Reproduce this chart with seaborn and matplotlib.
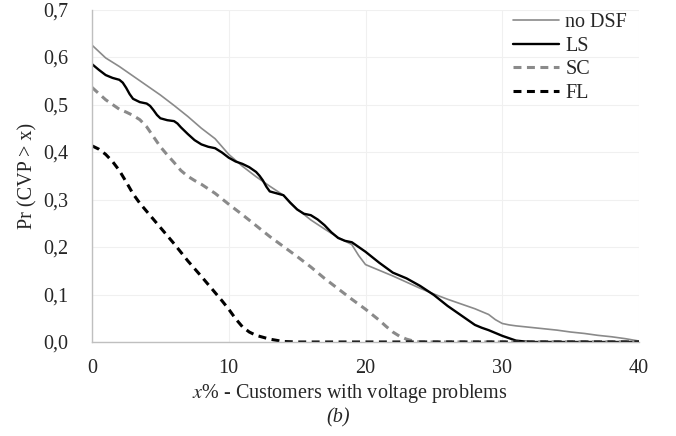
import numpy as np
import pandas as pd
import matplotlib
matplotlib.use("Agg")
import matplotlib.pyplot as plt
import seaborn as sns
from matplotlib.lines import Line2D

# ---- data ----
series_names = ["no DSF", "LS", "SC", "FL"]

x_nodsf = [0, 1, 2, 3, 4, 5, 6, 7, 8, 9, 10, 11, 12, 13, 14, 15, 16, 17, 18, 19,
           19.5, 20, 21, 22, 23, 24, 25, 26, 27, 28, 29, 29.5, 30, 30.5, 31, 32,
           33, 34, 35, 36, 37, 38, 39, 40]
y_nodsf = [0.625, 0.598, 0.580, 0.560, 0.540, 0.520, 0.498, 0.475, 0.450, 0.428,
           0.395, 0.370, 0.348, 0.328, 0.309, 0.280, 0.257, 0.238, 0.220, 0.205,
           0.182, 0.163, 0.151, 0.139, 0.126, 0.113, 0.101, 0.090, 0.080, 0.070,
           0.058, 0.047, 0.039, 0.036, 0.034, 0.031, 0.028, 0.025, 0.021, 0.018,
           0.014, 0.011, 0.007, 0.002]

x_ls = [0, 0.5, 1, 1.5, 2, 2.25, 2.5, 2.75, 3, 3.5, 4, 4.25, 4.5, 4.75, 5, 5.5, 6,
        6.25, 6.5, 7, 7.5, 8, 8.5, 9, 9.5, 10, 10.5, 11, 11.5, 12, 12.25, 12.5,
        12.75, 13, 13.5, 14, 14.5, 15, 15.5, 16, 16.5, 17, 17.5, 18, 18.5, 19,
        19.5, 20, 21, 22, 23, 24, 25, 26, 27, 28, 28.5, 29, 30, 31, 32, 33, 34,
        35, 36, 37, 38, 39, 40]
y_ls = [0.585, 0.573, 0.562, 0.556, 0.552, 0.546, 0.535, 0.522, 0.512, 0.505,
        0.502, 0.497, 0.488, 0.478, 0.471, 0.467, 0.465, 0.460, 0.452, 0.438,
        0.425, 0.416, 0.411, 0.408, 0.399, 0.388, 0.380, 0.375, 0.368, 0.358,
        0.350, 0.340, 0.327, 0.317, 0.313, 0.309, 0.293, 0.279, 0.270, 0.267,
        0.258, 0.246, 0.231, 0.219, 0.213, 0.210, 0.200, 0.190, 0.167, 0.146,
        0.134, 0.118, 0.099, 0.076, 0.056, 0.036, 0.030, 0.025, 0.013, 0.003,
        0.0, 0.0, 0.0, 0.0, 0.0, 0.0, 0.0, 0.0, 0.0]

x_sc = [0, 1, 2, 2.5, 3, 3.5, 4, 4.5, 5, 5.5, 6, 6.5, 7, 7.5, 8, 9, 10, 11, 12,
        13, 14, 15, 16, 17, 18, 19, 20, 21, 21.5, 22, 22.5, 23, 23.5, 24, 25, 30,
        35, 40]
y_sc = [0.536, 0.510, 0.490, 0.484, 0.477, 0.468, 0.453, 0.432, 0.411, 0.394,
        0.378, 0.361, 0.349, 0.340, 0.332, 0.313, 0.290, 0.268, 0.245, 0.222,
        0.201, 0.180, 0.158, 0.134, 0.112, 0.090, 0.069, 0.046, 0.033, 0.021,
        0.012, 0.006, 0.002, 0.0, 0.0, 0.0, 0.0, 0.0]

x_fl = [0, 0.5, 1, 1.5, 2, 2.5, 3, 3.5, 4, 5, 6, 7, 8, 9, 9.5, 10, 10.5, 11,
        11.5, 12, 13, 14, 15, 20, 25, 30, 35, 40]
y_fl = [0.413, 0.406, 0.395, 0.380, 0.361, 0.337, 0.312, 0.292, 0.275, 0.241,
        0.207, 0.171, 0.138, 0.104, 0.087, 0.069, 0.049, 0.032, 0.021, 0.014,
        0.006, 0.001, 0.0, 0.0, 0.0, 0.0, 0.0, 0.0]

x_ticks = [0, 10, 20, 30, 40]
y_ticks = [0.0, 0.1, 0.2, 0.3, 0.4, 0.5, 0.6, 0.7]
y_tick_labels = ["0,0", "0,1", "0,2", "0,3", "0,4", "0,5", "0,6", "0,7"]

df = pd.concat([
    pd.DataFrame({"x": x_nodsf, "y": y_nodsf, "s": "no DSF"}),
    pd.DataFrame({"x": x_ls, "y": y_ls, "s": "LS"}),
    pd.DataFrame({"x": x_sc, "y": y_sc, "s": "SC"}),
    pd.DataFrame({"x": x_fl, "y": y_fl, "s": "FL"}),
], ignore_index=True)

# ---- style ----
sns.set_theme(style="white")
plt.rcParams["font.family"] = ["Liberation Serif", "DejaVu Serif"]
plt.rcParams["mathtext.fontset"] = "stix"
FS = 14.5

W, H = 676, 436
fig = plt.figure(figsize=(W / 100, H / 100), dpi=100)
ax = fig.add_axes([92 / W, 1 - 342 / H, (639 - 92) / W, (342 - 9.5) / H])

palette = {"no DSF": "#8a8a8a", "LS": "#000000", "SC": "#8a8a8a", "FL": "#000000"}
dashes = {"no DSF": "", "LS": "", "SC": (2.6, 1.8), "FL": (2.6, 1.8)}
sizes = {"no DSF": 1.2, "LS": 1.7, "SC": 2.2, "FL": 2.2}

sns.lineplot(data=df, x="x", y="y", hue="s", style="s", size="s",
             hue_order=series_names, style_order=series_names, size_order=series_names,
             palette=palette, dashes=dashes, sizes=sizes, ax=ax, legend=False,
             estimator=None, sort=False)
for line in ax.get_lines():
    line.set_solid_joinstyle("round")
    line.set_dash_joinstyle("round")

ax.set_xlim(0, 40)
ax.set_ylim(0, 0.7)
ax.set_xticks(x_ticks)
ax.set_xticklabels([str(t) for t in x_ticks], fontsize=FS)
ax.set_yticks(y_ticks)
ax.set_yticklabels(y_tick_labels, fontsize=FS)
ax.tick_params(length=0, pad=12)
ax.tick_params(axis="y", pad=17)
ax.grid(True, color="#f0f0f0", linewidth=0.8)
ax.set_axisbelow(True)
for side in ["top", "right"]:
    ax.spines[side].set_visible(False)
for side in ["left", "bottom"]:
    ax.spines[side].set_color("#bfbfbf")
    ax.spines[side].set_linewidth(1.0)

ax.set_xlabel("")
ax.set_ylabel("Pr (CVP > x)", fontsize=FS)
ax.yaxis.set_label_coords(-0.099, 0.5)

fig.text(350 / W, 1 - 393 / H, r"$\mathit{x}$% - Customers with voltage problems",
         ha="center", va="center", fontsize=FS)
fig.text(338 / W, 1 - 418 / H, "(b)", ha="center", va="center", fontsize=FS,
         style="italic")

# legend
handles = []
for n in series_names:
    h = Line2D([0], [0], color=palette[n], lw=sizes[n],
               linestyle="--" if dashes[n] else "-")
    if dashes[n]:
        h.set_dashes(dashes[n])
    handles.append(h)
fig.legend(handles, series_names, loc="upper left",
           bbox_to_anchor=(513 / W, 1 - 13 / H), frameon=False,
           fontsize=FS, handlelength=2.3, handletextpad=0.3,
           labelspacing=0.22, borderpad=0, borderaxespad=0)

fig.savefig("out.png", dpi=100)
